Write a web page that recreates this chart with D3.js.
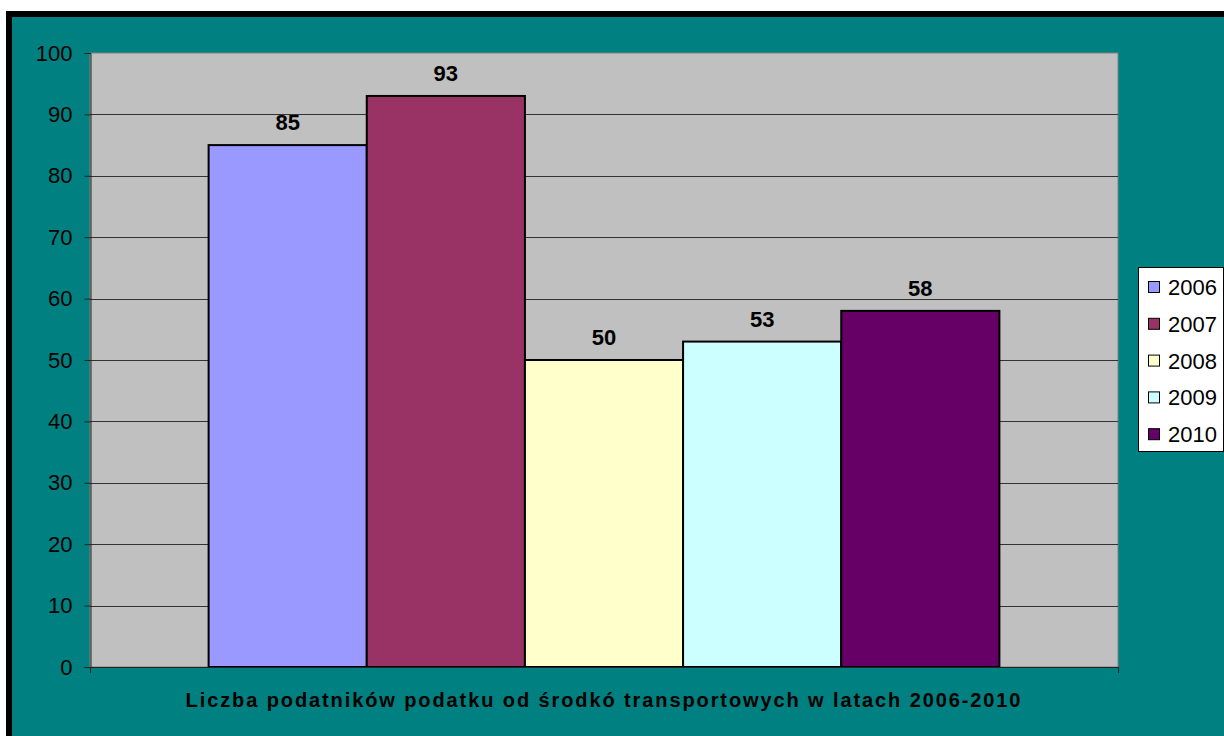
<!DOCTYPE html>
<html>
<head>
<meta charset="utf-8">
<script src="https://cdn.jsdelivr.net/npm/d3@7"></script>
<style>
  body { margin: 0; background: #fff; }
  svg { display: block; font-family: Arial, "Liberation Sans", sans-serif; }
</style>
</head>
<body>
<div id="chart"></div>
<script>
// data
var category = "Liczba podatników podatku od środkó transportowych w latach 2006-2010";
var years = ["2006", "2007", "2008", "2009", "2010"];
var values = [85, 93, 50, 53, 58];
var colors = ["#9999FF", "#993366", "#FFFFCC", "#CCFFFF", "#660066"];
var yTicks = [0, 10, 20, 30, 40, 50, 60, 70, 80, 90, 100];

var width = 1224, height = 736;
var plot = {left: 90, top: 53, right: 1118, bottom: 667};

var svg = d3.select("#chart").append("svg")
    .attr("width", width)
    .attr("height", height);

// frame
svg.append("rect")
    .attr("x", 9).attr("y", 14)
    .attr("width", width + 20).attr("height", height + 20)
    .attr("fill", "#008080")
    .attr("stroke", "#000")
    .attr("stroke-width", 6);

// plot background
svg.append("rect")
    .attr("x", plot.left).attr("y", plot.top)
    .attr("width", plot.right - plot.left).attr("height", plot.bottom - plot.top)
    .attr("fill", "#C0C0C0")
    .attr("stroke", "#808080")
    .attr("stroke-width", 1);

var y = d3.scaleLinear().domain([0, 100]).range([plot.bottom, plot.top]);

var x0 = d3.scaleBand().domain([category]).range([plot.left, plot.right]).paddingOuter(0.15).paddingInner(0);
var x1 = d3.scaleBand().domain(years).range([0, x0.bandwidth()]);

// gridlines
svg.append("g").selectAll("line")
    .data(yTicks.filter(function(d) { return d > 0 && d < 100; }))
    .enter().append("line")
    .attr("x1", plot.left).attr("x2", plot.right)
    .attr("y1", function(d) { return Math.round(y(d)) + 0.5; })
    .attr("y2", function(d) { return Math.round(y(d)) + 0.5; })
    .attr("stroke", "#333")
    .attr("stroke-width", 1);

// y axis
var yAxis = svg.append("g")
    .attr("transform", "translate(" + (plot.left + 0.5) + ",0)")
    .call(d3.axisLeft(y).tickValues(yTicks).tickSize(6).tickPadding(12));
yAxis.select(".domain").attr("stroke", "#222");
yAxis.selectAll(".tick line").attr("stroke", "#222");
yAxis.selectAll("text")
    .attr("fill", "#000")
    .style("font-size", "22px")
    .style("font-family", "Arial, 'Liberation Sans', sans-serif");

// bars
var g = svg.append("g").attr("transform", "translate(" + x0(category) + ",0)");

g.selectAll("rect")
    .data(values)
    .enter().append("rect")
    .attr("x", function(d, i) { return x1(years[i]); })
    .attr("y", function(d) { return y(d); })
    .attr("width", x1.bandwidth())
    .attr("height", function(d) { return y(0) - y(d); })
    .attr("fill", function(d, i) { return colors[i]; })
    .attr("stroke", "#000")
    .attr("stroke-width", 2);

g.selectAll("text")
    .data(values)
    .enter().append("text")
    .attr("x", function(d, i) { return x1(years[i]) + x1.bandwidth() / 2; })
    .attr("y", function(d) { return y(d) - 15; })
    .attr("text-anchor", "middle")
    .style("font-size", "22px")
    .style("font-weight", "bold")
    .text(function(d) { return d; });

// x axis
svg.append("line")
    .attr("x1", plot.left).attr("x2", plot.right)
    .attr("y1", plot.bottom + 0.5).attr("y2", plot.bottom + 0.5)
    .attr("stroke", "#222");
svg.selectAll(".xtick")
    .data([plot.left, plot.right])
    .enter().append("line")
    .attr("x1", function(d) { return d + 0.5; }).attr("x2", function(d) { return d + 0.5; })
    .attr("y1", plot.bottom).attr("y2", plot.bottom + 6)
    .attr("stroke", "#222");

svg.append("text")
    .attr("x", x0(category) + x0.bandwidth() / 2)
    .attr("y", 707)
    .attr("text-anchor", "middle")
    .style("font-size", "20px")
    .style("font-weight", "bold")
    .style("letter-spacing", "1.9px")
    .text(category);

// legend
var legend = svg.append("g").attr("transform", "translate(1138,267)");
legend.append("rect")
    .attr("x", 0.5).attr("y", 0.5)
    .attr("width", 85).attr("height", 184)
    .attr("fill", "#fff")
    .attr("stroke", "#000");

var items = legend.selectAll(".item")
    .data(years)
    .enter().append("g")
    .attr("transform", function(d, i) { return "translate(0," + (20 + i * 36.8) + ")"; });
items.append("rect")
    .attr("x", 10.5).attr("y", -5.5)
    .attr("width", 11).attr("height", 11)
    .attr("fill", function(d, i) { return colors[i]; })
    .attr("stroke", "#000");
items.append("text")
    .attr("x", 30).attr("y", 8)
    .style("font-size", "22px")
    .text(function(d) { return d; });
</script>
</body>
</html>
